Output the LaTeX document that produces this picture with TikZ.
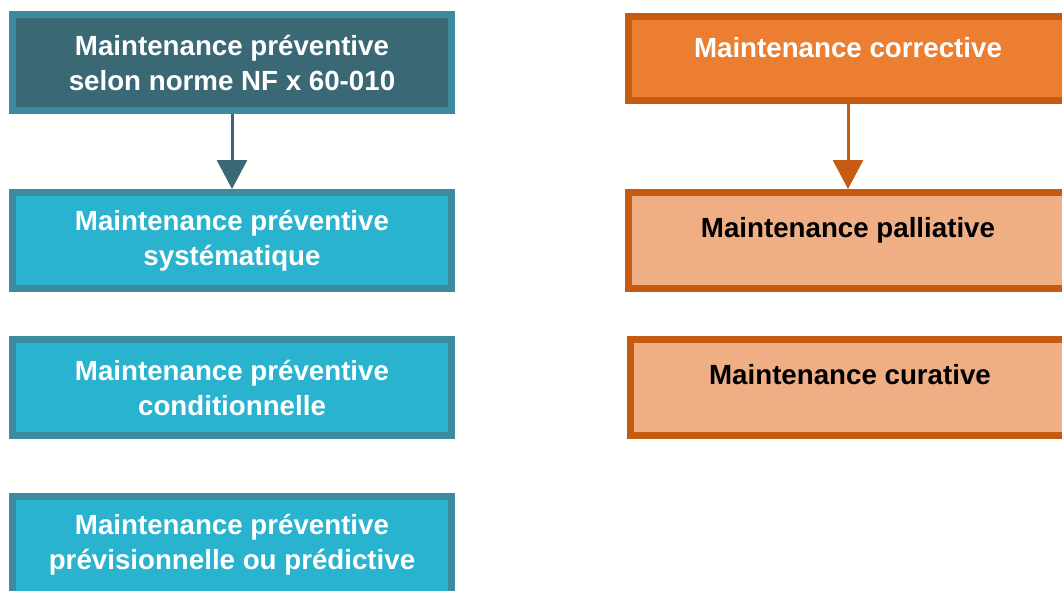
\documentclass[tikz,border=0pt]{standalone}
\usepackage{fontspec}
\setmainfont{Liberation Sans}
\usepackage{xcolor}
\usetikzlibrary{arrows.meta}

\definecolor{prevdark}{HTML}{3A6875}
\definecolor{prevborder}{HTML}{3D8B9E}
\definecolor{prevfill}{HTML}{29B3CE}
\definecolor{corrfill}{HTML}{EB7E31}
\definecolor{corrborder}{HTML}{C55A11}
\definecolor{corrlight}{HTML}{EFAE84}

\begin{document}
\begin{tikzpicture}[x=1pt, y=-1pt,
    box/.style={draw, line width=7pt, minimum width=439pt, minimum height=96pt,
        inner sep=0pt, align=center, font=\bfseries\fontsize{27.7}{35}\selectfont},
    prevbox/.style={box, draw=prevborder, fill=prevfill, text=white},
    corrbox/.style={box, draw=corrborder, fill=corrlight, text=black},
    link/.style={line width=3pt, -{Triangle[width=30pt, length=29pt]}}]

    % Fix the page size
    \useasboundingbox (0,0) rectangle (1062,590);
    \clip (0,0) rectangle (1062,590);

    % Preventive column
    \node[prevbox, fill=prevdark] (prevnorme) at (232,62.5)
        {Maintenance préventive\\selon norme NF x 60-010};
    \node[prevbox] (prevsyst) at (232,240.5)
        {Maintenance préventive\\systématique};
    \node[prevbox] (prevcond) at (232,387.5)
        {Maintenance préventive\\conditionnelle};
    \node[prevbox, minimum height=110pt, text depth=20pt] (prevpred) at (232,551.5)
        {Maintenance préventive\\prévisionnelle ou prédictive};

    % Corrective column
    \node[corrbox, fill=corrfill, text=white, minimum height=84pt] (corr) at (848,58.5)
        {Maintenance corrective\\[-12pt]~};
    \node[corrbox] (corrpall) at (848,240.5)
        {Maintenance palliative\\[-8pt]~};
    \node[corrbox] (corrcura) at (850,387.5)
        {Maintenance curative\\[-8pt]~};

    % Draw arrows
    \draw[link, draw=prevdark, fill=prevdark] (prevnorme.south) -- (prevsyst.north);
    \draw[link, draw=corrborder, fill=corrborder] (corr.south) -- (corrpall.north);
\end{tikzpicture}
\end{document}
